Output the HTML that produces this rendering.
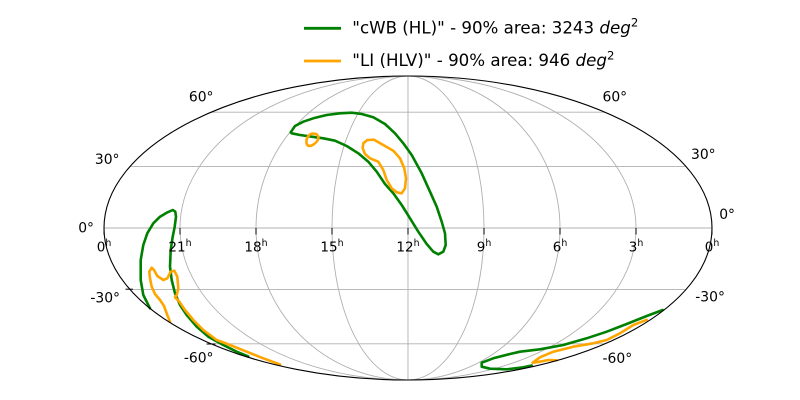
<!DOCTYPE html>
<html>
<head>
<meta charset="utf-8">
<style>
  html, body { margin: 0; padding: 0; background: #ffffff; }
  body { width: 800px; height: 400px; overflow: hidden; }
  svg { display: block; }
  text { font-family: "DejaVu Sans", "Liberation Sans", sans-serif; fill: #000; }
</style>
</head>
<body>
<svg width="800" height="400" viewBox="0 0 800 400" xmlns="http://www.w3.org/2000/svg">
  <rect x="0" y="0" width="800" height="400" fill="#ffffff"/>

  <!-- grid: parallels -->
  <g stroke="#b0b0b0" stroke-width="0.9" fill="none">
    <line x1="104" y1="228" x2="712" y2="228"/>
    <line x1="129.9" y1="166.6" x2="686.1" y2="166.6"/>
    <line x1="129.9" y1="289.4" x2="686.1" y2="289.4"/>
    <line x1="211.2" y1="112.2" x2="604.8" y2="112.2"/>
    <line x1="211.2" y1="343.8" x2="604.8" y2="343.8"/>
    <!-- meridians -->
    <line x1="408" y1="76" x2="408" y2="380"/>
    <path d="M408,76 A76 152 0 0 1 408,380"/>
    <path d="M408,76 A76 152 0 0 0 408,380"/>
    <path d="M408,76 A152 152 0 0 1 408,380"/>
    <path d="M408,76 A152 152 0 0 0 408,380"/>
    <path d="M408,76 A228 152 0 0 1 408,380"/>
    <path d="M408,76 A228 152 0 0 0 408,380"/>
  </g>

  <!-- contours -->
  <g fill="none" stroke-width="2.6" stroke-linejoin="round" stroke-linecap="round">
    <!-- green main -->
    <path stroke="#008000" d="M290.7,132.3 L295,126 L303.3,121.7 L313.3,118.3 L326.7,115 L340,113.3 L351.7,112.7 L361.7,114 L373.3,117.3 L385,124 L395,133.3 L403.3,143.3 L411.7,155 L421.7,173.3 L430,191.7 L436.7,206.7 L441.7,221.7 L445,233.3 L445.7,245 L443.3,251.7 L438.3,254.3 L433.3,251.7 L426.7,244 L418.3,231.7 L410,218.3 L401.7,205 L393.3,193.3 L385,184 L376.7,171.7 L368.3,161.7 L358.3,153.3 L346.7,146 L335,140.7 L323.3,138.3 L311.7,136.7 L300,135 L291.7,133.3 Z"/>
    <!-- green left -->
    <path stroke="#008000" d="M150,308.3 L143.3,295 L140.7,280 L140.7,260 L143.3,245 L147.3,233.3 L153.3,223.3 L160,216.7 L166.7,212.7 L172.7,210 L175.3,211.7 L176,216.7 L174.7,226.7 L172.7,236.7 L170.7,250 L170,266.7 L171.7,280 L175,293.3 L180,305 L186.7,315 L196.7,326.7 L208.3,336.7 L223.3,345 L236.7,351.7 L248.3,356.5"/>
    <!-- green bottom right -->
    <path stroke="#008000" d="M662.7,310 L646.7,316 L626.7,324 L606.7,331.7 L586.7,338.3 L563.3,345 L540,349.3 L520,351.7 L510,354 L493.3,358.3 L481.7,362.7 L481.7,366.7 L490,368.7 L506.7,369.3 L523.3,367.3 L531.7,365.5"/>

    <!-- orange big loop -->
    <path stroke="#ffa500" d="M363.3,143.3 L367.3,140 L374,139.7 L385,146 L393.3,150.7 L400,158.3 L404.3,168.3 L406,178.3 L405,188.3 L401.7,193.3 L396.7,192.3 L391.7,188.3 L386.7,180 L383.3,170 L378.3,161.7 L370,158.3 L365,154 L362.7,148.3 Z"/>
    <!-- orange small loop -->
    <path stroke="#ffa500" d="M307,144.5 C305.5,141 307,136.5 310,134.5 C313,132.8 317.5,133.5 318.3,136.8 C319,139.5 316.5,142.5 313.5,144.5 C311,146.2 308,146.5 307,144.5 Z"/>
    <!-- orange left -->
    <path stroke="#ffa500" d="M170,321.7 L167.3,315 L164,306 L160,300 L155,294 L151.7,286.7 L150,278.3 L149.3,271.7 L151.7,267.7 L154,270 L157.3,276 L163.3,280 L167.3,278.3 L170.7,271.7 L174.3,270.7 L177.3,276.7 L178.3,288.3 L176.7,295 L175,297.3 L179.3,301.7 L185,310 L193.3,320 L203.3,330 L216.7,340 L230,345 L246.7,351.7 L263.3,358.3 L280,364.5"/>
    <!-- orange bottom right -->
    <path stroke="#ffa500" d="M646.7,319.8 L633.3,325 L620,333.3 L606.7,340 L593.3,343.3 L573.3,346.7 L553.3,351.7 L540,357.3 L532.7,362.7 L540,361.7 L548.3,360 L556.7,360.3"/>
  </g>

  <!-- boundary -->
  <ellipse cx="408" cy="228" rx="304" ry="152" fill="none" stroke="#000" stroke-width="1.1"/>

  <!-- ticks -->
  <g stroke="#000" stroke-width="1">
    <line x1="104" y1="228" x2="104" y2="234.5"/>
    <line x1="180" y1="228" x2="180" y2="234.5"/>
    <line x1="256" y1="228" x2="256" y2="234.5"/>
    <line x1="332" y1="228" x2="332" y2="234.5"/>
    <line x1="408" y1="228" x2="408" y2="234.5"/>
    <line x1="484" y1="228" x2="484" y2="234.5"/>
    <line x1="560" y1="228" x2="560" y2="234.5"/>
    <line x1="636" y1="228" x2="636" y2="234.5"/>
    <line x1="712" y1="228" x2="712" y2="234.5"/>
    <line x1="125.5" y1="289.2" x2="133" y2="289.2"/>
    <line x1="206.5" y1="344" x2="215.5" y2="344"/>
  </g>

  <!-- longitude labels -->
  <g font-size="13.5" text-anchor="middle">
    <text x="104" y="251.7">0<tspan font-size="9.4" dy="-5.7">h</tspan></text>
    <text x="180" y="251.7">21<tspan font-size="9.4" dy="-5.7">h</tspan></text>
    <text x="256" y="251.7">18<tspan font-size="9.4" dy="-5.7">h</tspan></text>
    <text x="332" y="251.7">15<tspan font-size="9.4" dy="-5.7">h</tspan></text>
    <text x="408" y="251.7">12<tspan font-size="9.4" dy="-5.7">h</tspan></text>
    <text x="484" y="251.7">9<tspan font-size="9.4" dy="-5.7">h</tspan></text>
    <text x="560" y="251.7">6<tspan font-size="9.4" dy="-5.7">h</tspan></text>
    <text x="636" y="251.7">3<tspan font-size="9.4" dy="-5.7">h</tspan></text>
    <text x="712" y="251.7">0<tspan font-size="9.4" dy="-5.7">h</tspan></text>
  </g>

  <!-- latitude labels -->
  <g font-size="13.9">
    <text x="213.5" y="101.5" text-anchor="end">60°</text>
    <text x="119.5" y="163.8" text-anchor="end">30°</text>
    <text x="94" y="232.5" text-anchor="end">0°</text>
    <text x="120" y="302.5" text-anchor="end">-30°</text>
    <text x="213.5" y="362.5" text-anchor="end">-60°</text>
    <text x="602.5" y="101.5">60°</text>
    <text x="691" y="158.8">30°</text>
    <text x="719.2" y="218.8">0°</text>
    <text x="695.3" y="301.7">-30°</text>
    <text x="602.5" y="363">-60°</text>
  </g>

  <!-- legend -->
  <line x1="304" y1="28.3" x2="341" y2="28.3" stroke="#008000" stroke-width="2.8"/>
  <line x1="304" y1="61" x2="341" y2="61" stroke="#ffa500" stroke-width="2.8"/>
  <g font-size="16.67">
    <text x="352.3" y="33.3">"cWB (HL)" - 90% area: 3243 <tspan font-style="italic">deg</tspan><tspan font-size="11.7" dy="-6.6">2</tspan></text>
    <text x="352.3" y="66">"LI (HLV)" - 90% area: 946 <tspan font-style="italic">deg</tspan><tspan font-size="11.7" dy="-6.6">2</tspan></text>
  </g>
</svg>
</body>
</html>
